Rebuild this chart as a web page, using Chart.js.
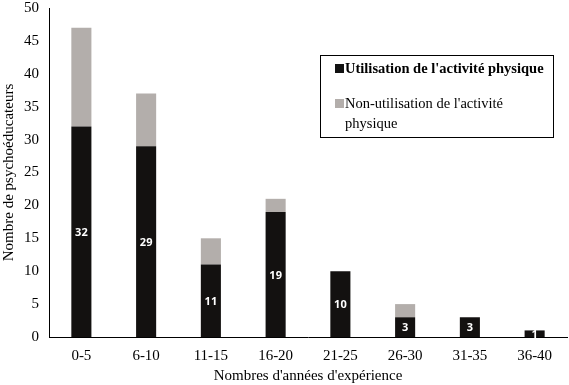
<!DOCTYPE html>
<html><head><meta charset="utf-8">
<script src="https://cdn.jsdelivr.net/npm/chart.js@4/dist/chart.umd.min.js"></script>
<style>html,body{margin:0;padding:0;background:#fff}#wrap{width:569px;height:385px}</style>
</head><body><div id="wrap"><canvas id="c" width="569" height="385"></canvas></div>
<script>
const categories = ["0-5","6-10","11-15","16-20","21-25","26-30","31-35","36-40"];
const utilisation = [32,29,11,19,10,3,3,1];
const nonUtilisation = [15,8,4,2,0,2,0,0];
const yTicks = [0,5,10,15,20,25,30,35,40,45,50];
const seriesNames = ["Utilisation de l'activité physique","Non-utilisation de l'activité physique"];

const serif = "'Liberation Serif','Times New Roman',serif";

const labelPlugin = {
  id:'labels',
  afterDatasetsDraw(chart){
    const ctx = chart.ctx;
    const meta = chart.getDatasetMeta(0);
    ctx.save();
    ctx.fillStyle = '#fff';
    ctx.font = "bold 11px 'Open Sans', 'DejaVu Sans', sans-serif";
    ctx.textAlign = 'center';
    ctx.textBaseline = 'middle';
    meta.data.forEach((el,i)=>{
      const v = utilisation[i];
      ctx.fillText(String(v), el.x, (el.y+el.base)/2 + 1);
    });
    ctx.restore();
  }
};

const legendPlugin = {
  id:'boxlegend',
  afterDraw(chart){
    const ctx = chart.ctx;
    ctx.save();
    ctx.strokeStyle = '#000';
    ctx.lineWidth = 1;
    ctx.strokeRect(320.5, 55.5, 233, 82);
    ctx.fillStyle = '#111';
    ctx.fillRect(335, 64, 9, 9);
    ctx.fillStyle = '#b3aeab';
    ctx.fillRect(335, 99, 9, 9);
    ctx.fillStyle = '#000';
    ctx.textBaseline = 'middle';
    ctx.textAlign = 'left';
    ctx.font = "bold 14.5px " + serif;
    ctx.fillText(seriesNames[0], 345, 69);
    ctx.font = "14.5px " + serif;
    ctx.fillText("Non-utilisation de l'activité", 345, 104);
    ctx.fillText("physique", 345, 124);
    ctx.restore();
  }
};

new Chart(document.getElementById('c'), {
  type:'bar',
  data:{
    labels:categories,
    datasets:[
      {label:seriesNames[0], data:utilisation, backgroundColor:'#131110', barPercentage:0.31, categoryPercentage:1},
      {label:seriesNames[1], data:nonUtilisation, backgroundColor:'#b3aeab', barPercentage:0.31, categoryPercentage:1}
    ]
  },
  options:{
    responsive:false,
    animation:false,
    layout:{padding:{top:0,right:2,left:0,bottom:0}},
    plugins:{legend:{display:false}, tooltip:{enabled:false}},
    scales:{
      x:{
        stacked:true,
        grid:{display:false, drawTicks:false},
        border:{color:'#000', width:1},
        ticks:{color:'#000', font:{family:serif, size:15}, padding:10},
        title:{display:true, text:"Nombres d'années d'expérience", color:'#000', font:{family:serif, size:15}, padding:{top:2,bottom:0}},
        afterFit(s){ s.height = 48; }
      },
      y:{
        stacked:true,
        min:0, max:50,
        afterBuildTicks(s){ s.ticks = yTicks.map(v=>({value:v})); },
        grid:{display:false, drawTicks:false},
        border:{color:'#000', width:1},
        ticks:{color:'#000', font:{family:serif, size:15, lineHeight:1.0}, padding:10},
        title:{display:true, text:"Nombre de psychoéducateurs", color:'#000', font:{family:serif, size:15}, padding:{top:0,bottom:2}},
        afterFit(s){ s.width = 49; s.paddingTop = 8; }
      }
    }
  },
  plugins:[labelPlugin, legendPlugin]
});
</script></body></html>
